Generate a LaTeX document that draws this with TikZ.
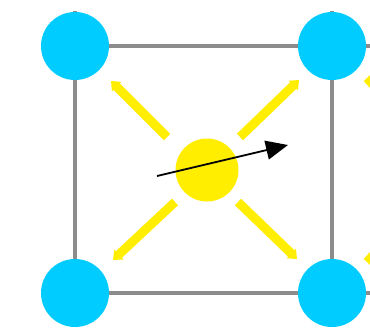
\documentclass[tikz,border=0pt]{standalone}
\usetikzlibrary{arrows.meta}
\definecolor{cyanball}{RGB}{0,204,255}
\definecolor{yball}{RGB}{255,238,0}
\definecolor{edgegray}{RGB}{140,140,140}
\tikzset{
  corner/.style={circle,fill=cyanball,minimum size=68pt,inner sep=0pt},
  centre/.style={circle,fill=yball,minimum size=63pt,inner sep=0pt},
  edge/.style={draw=edgegray,line width=4pt},
  yarrow/.style={draw=yball,line width=9pt,-{Triangle[length=8pt,width=13pt]}},
  blackarrow/.style={draw=black,line width=1.8pt,-{Triangle[length=22pt,width=19pt]}}
}
\begin{document}
\begin{tikzpicture}[x=1pt,y=-1pt]
\useasboundingbox (0,0) rectangle (370,335);
\fill[white] (0,0) rectangle (370,335);
% extended lattice lines
\draw[edge] (75,11) -- (75,327);
\draw[edge] (332,11) -- (332,327);
\draw[edge] (75,46) -- (370,46);
\draw[edge] (75,293) -- (370,293);
% neighbouring arrows cut at right edge
\draw[yball,line width=9pt] (367,78) -- (378,90);
\draw[yball,line width=9pt] (367,262) -- (378,250);
% corner balls
\node[corner] (tl) at (75,46) {};
\node[corner] (tr) at (332,46) {};
\node[corner] (bl) at (75,293) {};
\node[corner] (br) at (332,293) {};
% centre ball
\node[centre] (c) at (207,170) {};
\coordinate (a1) at (167,137);
\coordinate (a2) at (240,137);
\coordinate (a3) at (175,202);
\coordinate (a4) at (238,202);
\coordinate (t1) at (111,81);
\coordinate (t2) at (299,80);
\coordinate (t3) at (113,260);
\coordinate (t4) at (297,259);
\draw[yarrow] (a1) -- (t1);
\draw[yarrow] (a2) -- (t2);
\draw[yarrow] (a3) -- (t3);
\draw[yarrow] (a4) -- (t4);
\coordinate (s) at (157,176);
\coordinate (e) at (288,145);
\draw[blackarrow] (s) -- (e);
\end{tikzpicture}
\end{document}
